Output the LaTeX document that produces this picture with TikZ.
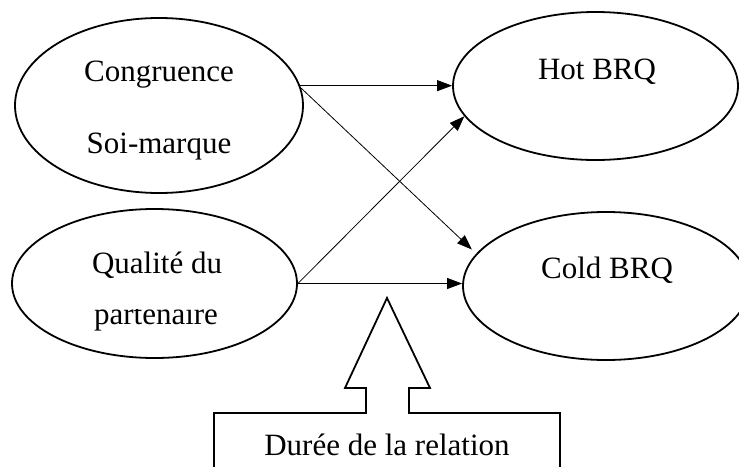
\documentclass[tikz,border=0pt]{standalone}
\usepackage{fontspec}
\setmainfont{Liberation Serif}
\usetikzlibrary{shapes.geometric,arrows.meta}
\begin{document}
\begin{tikzpicture}[x=1pt,y=-1pt,
  oval/.style={ellipse,draw,line width=1.8pt,inner sep=0pt},
  lbl/.style={anchor=base,inner sep=0pt,font=\fontsize{31}{37}\selectfont},
  link/.style={line width=0.8pt,-{Triangle[length=15pt,width=11pt]}},
  callout/.style={line width=1.8pt,line join=miter}]
\useasboundingbox (0,0) rectangle (739,466);
\clip (0,0) rectangle (739,466);
% ellipses
\node[oval,minimum width=288pt,minimum height=175pt] (E1) at (159,105.5) {};
\node[oval,minimum width=285pt,minimum height=149pt] (E2) at (154.5,283.5) {};
\node[oval,minimum width=285pt,minimum height=148pt] (E3) at (595.5,86) {};
\node[oval,minimum width=286pt,minimum height=148pt] (E4) at (606,286) {};
% texts
\node[lbl] (t1) at (159,81) {Congruence};
\node[lbl] (t2) at (159,153) {Soi-marque};
\node[lbl] (t3) at (597,79) {Hot BRQ};
\node[lbl] (t4) at (157,273) {Qualité du};
\begin{scope}
\clip (0,309.5) rectangle (739,466);
\node[lbl] (t5) at (156,324) {partenaire};
\end{scope}
\node[lbl] (t6) at (607,278) {Cold BRQ};
% connectors
\draw[link] (E1.8) -- (E1.8 -| E3.west);
\draw[link,shorten >=6pt] (E1.7) -- (E4.166);
\draw[link] (E2.east) -- (E3.193);
\draw[link] (E2.east) -- (E2.east -| E4.west);
% moderator callout
\draw[callout] (214,480) -- (214,413) -- (366,413) -- (366,388) -- (345,388)
  -- (387,298) -- (430,388) -- (409,388) -- (409,413) -- (560,413) -- (560,480);
\node[lbl] (D) at (387,455) {Durée de la relation};
\end{tikzpicture}
\end{document}
